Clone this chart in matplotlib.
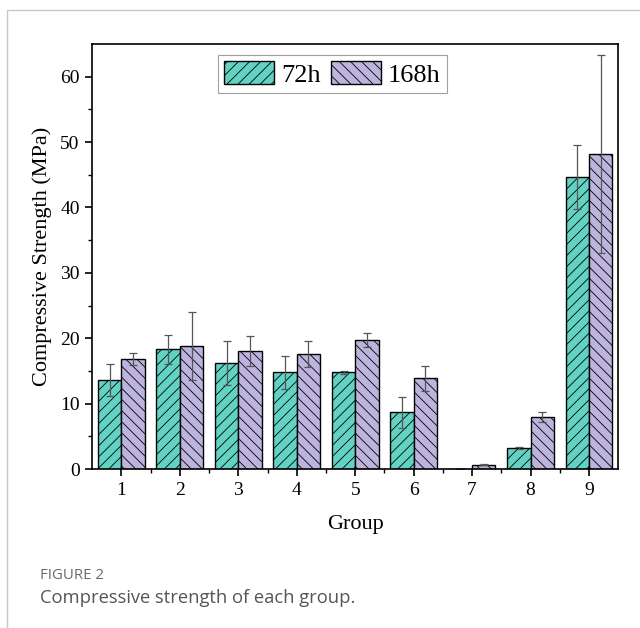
import numpy as np
import matplotlib.pyplot as plt
from matplotlib.patches import Rectangle

plt.rcParams['font.family'] = ['Liberation Serif', 'DejaVu Serif']
plt.rcParams['hatch.linewidth'] = 0.6
plt.rcParams['hatch.color'] = '#222222'

groups = [1, 2, 3, 4, 5, 6, 7, 8, 9]
strength_72h = [13.6, 18.3, 16.2, 14.8, 14.8, 8.7, 0.0, 3.2, 44.6]
err_72h = [2.4, 2.2, 3.4, 2.5, 0.25, 2.4, 0.0, 0.2, 4.9]
strength_168h = [16.8, 18.8, 18.0, 17.6, 19.7, 13.9, 0.7, 8.0, 48.2]
err_168h = [0.9, 5.2, 2.3, 2.0, 1.1, 1.9, 0.1, 0.8, 15.1]

teal = '#62D2C3'
lilac = '#BDB4DE'
width = 0.4

fig = plt.figure(figsize=(6.4, 6.28), dpi=100)
ax = fig.add_axes([0.144, 0.253, 0.822, 0.677])

x = np.array(groups)
ax.bar(x - width / 2, strength_72h, width, color=teal, edgecolor='black',
       linewidth=1.0, hatch='///', label='72h')
ax.bar(x + width / 2, strength_168h, width, color=lilac, edgecolor='black',
       linewidth=1.0, hatch='\\\\\\', label='168h')
ax.errorbar(x - width / 2, strength_72h, yerr=err_72h, fmt='none',
            ecolor='#555555', elinewidth=0.9, capsize=2.8, capthick=0.9)
ax.errorbar(x + width / 2, strength_168h, yerr=err_168h, fmt='none',
            ecolor='#555555', elinewidth=0.9, capsize=2.8, capthick=0.9)

ax.set_xlim(0.5, 9.5)
ax.set_ylim(0, 65)
ax.set_xticks(groups)
ax.set_xticks(np.arange(1.5, 9.5, 1), minor=True)
ax.set_yticks(np.arange(0, 61, 10))
ax.set_yticks(np.arange(5, 65, 10), minor=True)
ax.tick_params(axis='both', which='major', direction='out', length=5,
               width=1.2, labelsize=14, pad=4)
ax.tick_params(axis='both', which='minor', direction='out', length=3,
               width=1.0)
for s in ax.spines.values():
    s.set_linewidth(1.2)

ax.set_xlabel('Group', fontsize=16, labelpad=12)
ax.set_ylabel('Compressive Strength (MPa)', fontsize=16, labelpad=6)

leg = ax.legend(loc='upper center', bbox_to_anchor=(0.456, 0.975), ncol=2,
                fontsize=19, fancybox=False, edgecolor='#888888',
                handlelength=1.9, handleheight=1.0, columnspacing=0.38,
                handletextpad=0.27, borderpad=0.23, borderaxespad=0.0)
leg.get_frame().set_linewidth(0.8)

# outer frame and caption
fig.patches.append(Rectangle((7 / 640, -0.1), 1.2, 1 - 10 / 628 + 0.1,
                             transform=fig.transFigure, fill=False,
                             edgecolor='#c8c8c8', linewidth=1.0))
fig.text(0.0625, 0.078, 'FIGURE 2', family='Open Sans', fontsize=10.8,
         color='#6a6a6a')
fig.text(0.0625, 0.04, 'Compressive strength of each group.',
         family='Open Sans', fontsize=13.2, color='#555555')

plt.savefig('out.png', dpi=100)
